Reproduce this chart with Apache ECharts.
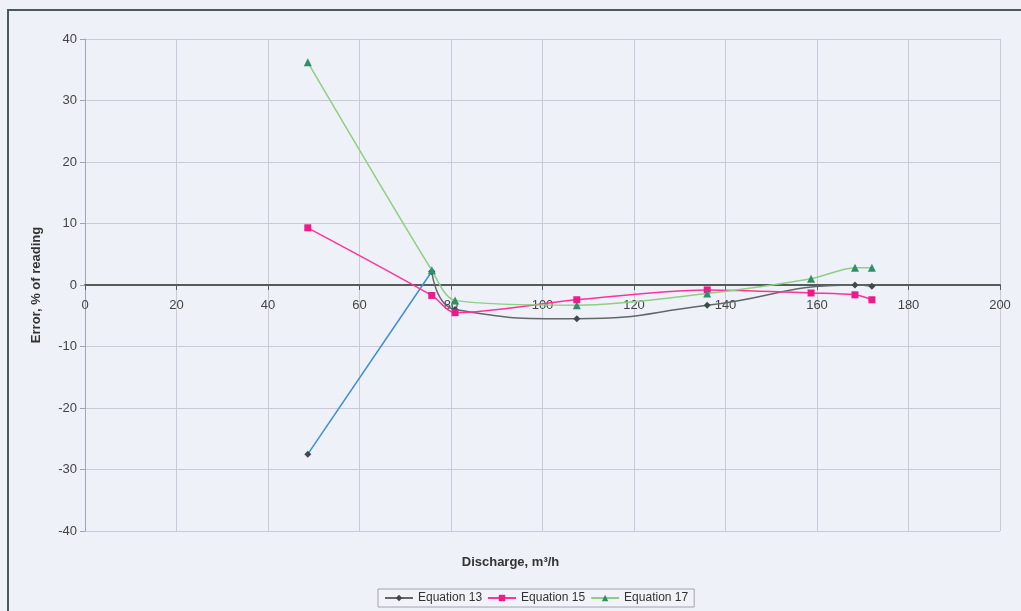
<!DOCTYPE html>
<html>
<head>
<meta charset="utf-8">
<script src="https://cdn.jsdelivr.net/npm/echarts@6/dist/echarts.min.js"></script>
<style>
html,body{margin:0;padding:0;background:#eef1f8;}
#c{width:1021px;height:611px;}
</style>
</head>
<body>
<div id="c"></div>
<script>
var xTicks = [0, 20, 40, 60, 80, 100, 120, 140, 160, 180, 200];
var yTicks = [-40, -30, -20, -10, 0, 10, 20, 30, 40];

var eq13X = [48.7, 75.8, 80.9, 107.5, 136.0, 168.3, 172.0];
var eq13Y = [-27.5, 2.2, -4.0, -5.5, -3.3, 0.0, -0.2];

var eq15X = [48.7, 75.8, 80.9, 107.5, 136.0, 158.7, 168.3, 172.0];
var eq15Y = [9.3, -1.7, -4.5, -2.4, -0.8, -1.3, -1.6, -2.4];

var eq17X = [48.7, 75.8, 80.9, 107.5, 136.0, 158.7, 168.3, 172.0];
var eq17Y = [36.2, 2.4, -2.5, -3.3, -1.4, 1.0, 2.8, 2.8];

function pairs(xs, ys, from, to) {
  var out = [];
  for (var i = from; i < to; i++) out.push([xs[i], ys[i]]);
  return out;
}

var chart = echarts.init(document.getElementById('c'));
var font = 'Liberation Sans, Arial, sans-serif';
chart.setOption({
  backgroundColor: '#eef1f8',
  animation: false,
  textStyle: {fontFamily: font},
  title: {
    text: 'Discharge, m³/h', left: 'center', top: 551,
    textStyle: {fontWeight: 'bold', fontSize: 13, color: '#333', fontFamily: font}
  },
  graphic: [{
    type: 'rect', shape: {x: 8, y: 10, width: 1030, height: 620},
    style: {fill: 'none', stroke: '#4a5a5a', lineWidth: 2}, silent: true
  }],
  grid: {left: 85, right: 21, top: 39, bottom: 80, containLabel: false, outerBoundsMode: 'none'},
  xAxis: {
    type: 'value', min: 0, max: 200, interval: 20,
    position: 'bottom', offset: -246,
    axisLine: {onZero: false, lineStyle: {color: '#555a5a', width: 2}},
    axisTick: {show: true, inside: false, length: 5, lineStyle: {color: '#555a5a'}},
    axisLabel: {color: '#444', fontSize: 13, margin: 14, formatter: function (v) { return xTicks.indexOf(v) >= 0 ? String(v) : ''; }},
    splitLine: {show: true, lineStyle: {color: '#c9cad8', width: 1}}
  },
  yAxis: {
    type: 'value', min: -40, max: 40, interval: 10,
    name: 'Error, % of reading', nameLocation: 'middle', nameGap: 42,
    nameTextStyle: {fontWeight: 'bold', fontSize: 13, color: '#333'},
    axisLine: {show: true, onZero: false, lineStyle: {color: '#a0a4b4', width: 1}},
    axisTick: {show: true, length: 5, lineStyle: {color: '#a0a4b4'}},
    axisLabel: {color: '#444', fontSize: 13, margin: 8, formatter: function (v) { return yTicks.indexOf(v) >= 0 ? String(v) : ''; }},
    splitLine: {show: true, lineStyle: {color: '#c9cad8', width: 1}}
  },
  legend: {
    bottom: 4, left: 378,
    backgroundColor: '#f1f3f9', borderColor: '#a0a4b0', borderWidth: 1,
    padding: [3, 6], itemGap: 5, itemWidth: 28, itemHeight: 8,
    textStyle: {fontSize: 12, color: '#333'},
    data: ['Equation 13', 'Equation 15', 'Equation 17']
  },
  series: [
    {
      name: 'Eq13 first', type: 'line', data: pairs(eq13X, eq13Y, 0, 2),
      symbol: 'diamond', symbolSize: 7,
      itemStyle: {color: '#3e4b4b'},
      lineStyle: {color: '#3b8fd0', width: 1.5}, z: 2
    },
    {
      name: 'Equation 13', type: 'line', data: pairs(eq13X, eq13Y, 1, eq13X.length),
      smooth: 0.5, symbol: 'diamond', symbolSize: 7,
      itemStyle: {color: '#3e4b4b'},
      lineStyle: {color: '#626868', width: 1.5}, z: 3
    },
    {
      name: 'Equation 15', type: 'line', data: pairs(eq15X, eq15Y, 0, eq15X.length),
      smooth: 0.3, symbol: 'rect', symbolSize: 7,
      itemStyle: {color: '#ee1a8c'},
      lineStyle: {color: '#ff3399', width: 1.5}, z: 4
    },
    {
      name: 'Equation 17', type: 'line', data: pairs(eq17X, eq17Y, 0, eq17X.length),
      smooth: 0.3, symbol: 'triangle', symbolSize: 8,
      itemStyle: {color: '#2f8f6a'},
      lineStyle: {color: '#8fcf80', width: 1.5}, z: 5
    }
  ]
});
</script>
</body>
</html>
